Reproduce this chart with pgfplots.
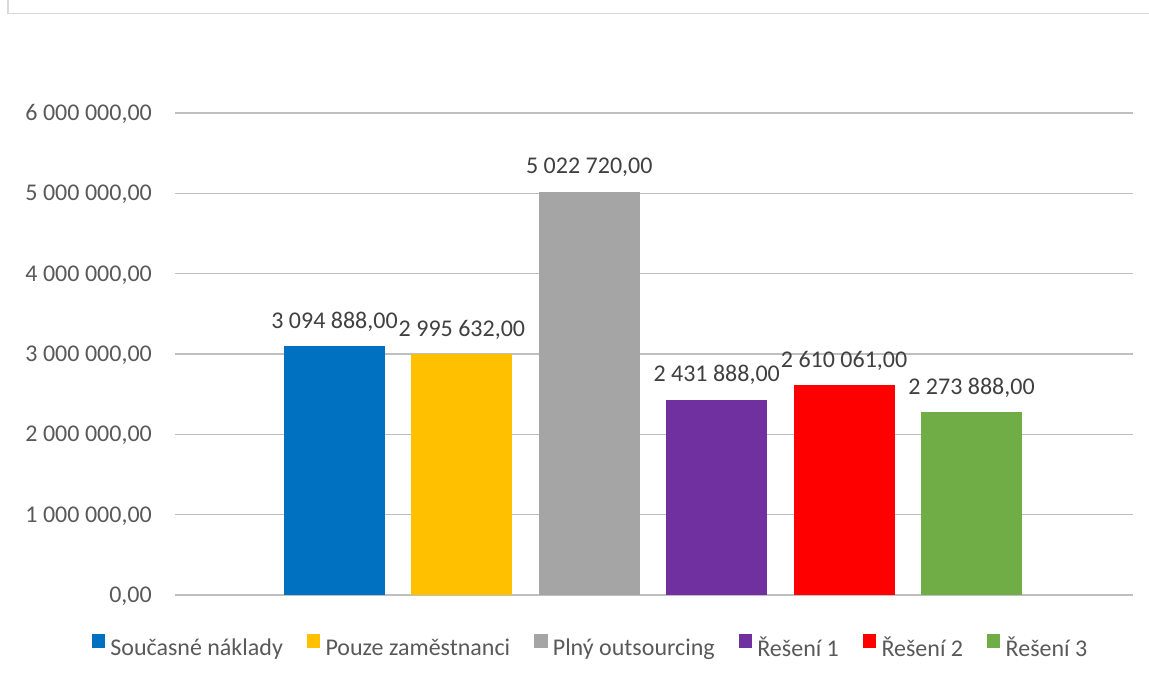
\documentclass[border=0pt]{standalone}
\usepackage{pgfplots}
\pgfplotsset{compat=1.18}
\usepackage{fontspec}
\setmainfont{Carlito}
\definecolor{cBlue}{HTML}{0070C0}
\definecolor{cYellow}{HTML}{FFC000}
\definecolor{cGray}{HTML}{A5A5A5}
\definecolor{cPurple}{HTML}{7030A0}
\definecolor{cRed}{HTML}{FF0000}
\definecolor{cGreen}{HTML}{70AD47}
\definecolor{txt}{HTML}{595959}
\definecolor{lbl}{HTML}{404040}
\definecolor{grid}{HTML}{D9D9D9}
\pgfplotsset{
  mybar/.style={ybar, bar shift=0pt, bar width=101pt, fill=#1, draw=none,
    legend image code/.code={\fill[#1] (0pt,0pt) rectangle (13.3pt,14pt);}},
}
\newcommand{\legtxt}[1]{\hspace{5.3pt}#1}
\begin{document}
\begin{tikzpicture}[x=1pt,y=1pt]
\useasboundingbox (0,0) rectangle (1149,677);
\draw[grid, line width=1.3pt] (8,677) -- (8,663.5) -- (1149,663.5);
\begin{axis}[
  at={(175pt,82pt)}, anchor=south west,
  width=958pt, height=482pt, scale only axis,
  xmin=175, xmax=1133, ymin=0, ymax=6000000,
  axis line style={draw=none},
  major tick length=0pt,
  xtick=\empty,
  scaled y ticks=false,
  ytick={0,1000000,2000000,3000000,4000000,5000000,6000000},
  yticklabels={{0,00},{1 000 000,00},{2 000 000,00},{3 000 000,00},{4 000 000,00},{5 000 000,00},{6 000 000,00}},
  yticklabel style={font=\fontsize{24pt}{28pt}\selectfont, text=txt, anchor=base east, inner sep=0pt, xshift=-23pt, yshift=-7.6pt},
  ymajorgrids,
  grid style={grid, line width=1.3pt},
  point meta=explicit symbolic,
  nodes near coords,
  every node near coord/.append style={font=\fontsize{24pt}{28pt}\selectfont, text=lbl, anchor=base, inner sep=0pt, yshift=18pt},
  legend columns=6,
  legend style={at={(0.4327,-0.1058)}, anchor=center, draw=none, fill=none, inner sep=0pt,
    font=\fontsize{24pt}{28pt}\selectfont, text=txt,
    nodes={inner sep=0pt},
    /tikz/every even column/.append style={column sep=24pt}},
]
\addplot[mybar=cBlue] coordinates {(334.5,3094888) [3 094 888,00]};
\addlegendentry{\legtxt{Současné náklady}}
\addplot[mybar=cYellow] coordinates {(461.9,2995632) [2 995 632,00]};
\addlegendentry{\legtxt{Pouze zaměstnanci}}
\addplot[mybar=cGray] coordinates {(589.3,5022720) [5 022 720,00]};
\addlegendentry{\legtxt{Plný outsourcing}}
\addplot[mybar=cPurple] coordinates {(716.7,2431888) [2 431 888,00]};
\addlegendentry{\legtxt{Řešení 1}}
\addplot[mybar=cRed] coordinates {(844.1,2610061) [2 610 061,00]};
\addlegendentry{\legtxt{Řešení 2}}
\addplot[mybar=cGreen] coordinates {(971.5,2273888) [2 273 888,00]};
\addlegendentry{\legtxt{Řešení 3}}
\end{axis}
\end{tikzpicture}
\end{document}
